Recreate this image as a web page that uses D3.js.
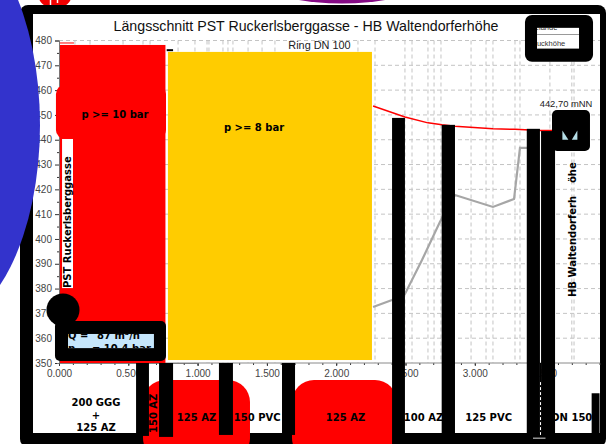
<!DOCTYPE html>
<html>
<head>
<meta charset="utf-8">
<script src="https://cdn.jsdelivr.net/npm/d3@7"></script>
<style>
html, body { margin: 0; padding: 0; background: #fff; }
svg { display: block; font-family: "Liberation Sans", sans-serif; }
</style>
</head>
<body>
<div id="chart"></div>
<script>
// axis ticks
const yTicks = [350, 360, 370, 380, 390, 400, 410, 420, 430, 440, 450, 460, 470, 480];
const yMinorTicks = [355, 365, 375, 385, 395, 405, 415, 425, 435, 445, 455, 465, 475];
const xTicks = [0, 0.5, 1, 1.5, 2, 2.5, 3, 3.5];

// vertical grid = node positions along the pipe (km)
const gridKm = [0.115, 0.224, 0.462, 0.606, 0.657, 0.859, 0.981, 1.068, 1.082, 1.183, 1.219, 1.255, 1.364, 1.465, 1.558,
  2.157, 2.28, 2.496, 2.547, 2.662, 2.706, 2.756, 2.973, 3.081, 3.131, 3.29, 3.326, 3.542, 3.70, 3.716];

// pressure head (red) and terrain (grey)
const headKm = [2.266, 2.496, 2.662, 2.763, 2.857, 3.131, 3.29, 3.47, 3.557];
const headM = [453.6, 449.2, 446.8, 446, 445.4, 444.4, 444.2, 443.7, 443.7];
const terrainKm = [2.266, 2.403, 2.496, 2.619, 2.749, 2.857, 3.131, 3.283, 3.326, 3.377];
const terrainM = [372.6, 375.4, 377.8, 391.5, 406.9, 417.7, 412.9, 416.1, 436.7, 436.7];

// pipe sections under the axis
const sectionLabels = ["125 AZ", "150 PVC", "125 AZ", "100 AZ", "125 PVC", "DN 150"];
const sectionKm = [0.992, 1.43, 2.067, 2.63, 3.1, 3.7];
const firstSection = ["200 GGG", "+", "125 AZ"];

// covered areas: [km from, km to, m from, m to]
const redAreas = [[0.007, 0.768, 350, 478.2], [-0.022, 0.772, 440.3, 462.1], [0.007, 0.108, 478.8, 479.2],
  [0.606, 1.378, 310.9, 343.1], [1.681, 2.439, 310.9, 343.1]];
const yellowArea = [0.786, 2.258, 351.2, 475.4];
const blackBars = [[0.556, 0.649, 320.6, 350], [0.722, 0.823, 320.2, 350], [1.154, 1.255, 321, 350], [1.609, 1.703, 321, 350],
  [2.403, 2.496, 317, 448.8], [2.761, 2.857, 317, 446], [3.375, 3.47, 317, 444.4], [3.478, 3.579, 317, 443.5],
  [3.47, 3.478, 317, 350], [0.777, 0.823, 475.7, 476.5], [3.843, 3.9, 320, 337.8]];
const qBox = [-0.029, 0.772, 350.8, 366.9];
const qInner = [0.065, 0.685, 356, 361.7];
const legendBox = [3.362, 3.853, 471.4, 490.3];
const legendInner = [3.449, 3.752, 476.6, 485.1];
const tankBox = [3.557, 3.831, 435.5, 452];

const width = 609, height = 444;
const svg = d3.select("#chart").append("svg").attr("width", width).attr("height", height);

const x = d3.scaleLinear().domain([0, 1]).range([59, 197.6]);
const y = d3.scaleLinear().domain([350, 480]).range([363, 40.5]);

function box(parent, a, fill, rx) {
  return parent.append("rect")
    .attr("x", x(a[0])).attr("y", y(a[3]))
    .attr("width", x(a[1]) - x(a[0])).attr("height", y(a[2]) - y(a[3]))
    .attr("rx", rx || 0).attr("fill", fill);
}
function bold(t, px, py, anchor) {
  return svg.append("text").attr("x", px).attr("y", py).attr("text-anchor", anchor || "middle")
    .attr("font-family", "DejaVu Sans").attr("font-weight", "bold").attr("font-size", 10).attr("fill", "#000").text(t);
}
function boldUp(t, px, py) {
  return svg.append("text").attr("transform", `translate(${px},${py}) rotate(-90)`)
    .attr("font-family", "DejaVu Sans").attr("font-weight", "bold").attr("font-size", 10).attr("fill", "#000").text(t);
}

// shapes sticking out behind the frame
svg.append("circle").attr("cx", 55).attr("cy", -9).attr("r", 18).attr("fill", "#f00000");
svg.append("line").attr("x1", 50.5).attr("x2", 50.5).attr("y1", 0).attr("y2", 9).attr("stroke", "#fff").attr("stroke-width", 1.5);
svg.append("line").attr("x1", 57.5).attr("x2", 57.5).attr("y1", 0).attr("y2", 3).attr("stroke", "#fff").attr("stroke-width", 1.5);
svg.append("ellipse").attr("cx", 342).attr("cy", -12).attr("rx", 68).attr("ry", 15.5).attr("fill", "#850a85");

// frame
svg.append("rect").attr("x", 20).attr("y", 5).attr("width", 586).attr("height", 442).attr("rx", 8).attr("fill", "#000");
svg.append("rect").attr("x", 33).attr("y", 14).attr("width", 567).attr("height", 419).attr("fill", "#fff");

// grid
const grid = svg.append("g").attr("stroke", "#c4c4c4").attr("stroke-dasharray", "4,3").attr("stroke-width", 1);
grid.selectAll("line.h").data(yTicks.slice(1)).join("line").attr("class", "h")
  .attr("x1", x(0)).attr("x2", 600).attr("y1", d => y(d)).attr("y2", d => y(d));
grid.selectAll("line.v").data(gridKm).join("line").attr("class", "v")
  .attr("x1", d => x(d)).attr("x2", d => x(d)).attr("y1", y(480)).attr("y2", y(350));

// axes
svg.append("g").attr("transform", `translate(${x(0)},0)`)
  .call(d3.axisLeft(y).tickValues(yTicks).tickSize(4).tickFormat(d3.format("d")));
svg.append("g").attr("transform", `translate(${x(0)},0)`)
  .call(d3.axisLeft(y).tickValues(yMinorTicks).tickSize(2).tickFormat(""));
const xAxis = svg.append("g").attr("transform", `translate(0,${y(350)})`)
  .call(d3.axisBottom(x).tickValues(xTicks).tickSize(3).tickFormat(d3.format(".3f")));
svg.append("g").attr("transform", `translate(0,${y(350)})`)
  .call(d3.axisBottom(x).tickValues(d3.range(0, 3.95, 0.1)).tickSize(2).tickFormat(""));
svg.append("line").attr("x1", x(0)).attr("x2", 600).attr("y1", y(350)).attr("y2", y(350)).attr("stroke", "#8a8a8a");
svg.selectAll(".domain").attr("stroke", "#777");
svg.selectAll(".tick line").attr("stroke", "#333");
svg.selectAll(".tick text").attr("font-size", 10).attr("font-family", "Liberation Sans").attr("fill", "#444");
xAxis.selectAll("text").attr("y", 7);

// blue ellipse over the left of the frame
svg.append("ellipse").attr("cx", -60).attr("cy", 125).attr("rx", 100).attr("ry", 200).attr("fill", "#3333cc");

// lines
const lineOf = d3.line().x(d => x(d[0])).y(d => y(d[1]));
svg.append("path").attr("d", lineOf(d3.zip(terrainKm, terrainM))).attr("fill", "none").attr("stroke", "#a6a6a6").attr("stroke-width", 2.2);
svg.append("path").attr("d", lineOf(d3.zip(headKm, headM))).attr("fill", "none").attr("stroke", "#f00").attr("stroke-width", 1.5);

// title etc
svg.append("text").attr("x", 306).attr("y", 31).attr("text-anchor", "middle").attr("font-size", 14.2).attr("fill", "#111")
  .text("Längsschnitt PST Ruckerlsberggasse - HB Waltendorferhöhe");
svg.append("text").attr("x", 319.5).attr("y", 49).attr("text-anchor", "middle").attr("font-size", 10.9).attr("fill", "#222").text("Ring DN 100");
svg.append("text").attr("x", 566).attr("y", 107).attr("text-anchor", "middle").attr("font-size", 9.4).attr("fill", "#222").text("442,70 mNN");

// pressure zones
redAreas.slice(0, 3).forEach((a, i) => box(svg, a, "#f00", i === 1 ? 9 : 0));
box(svg, yellowArea, "#ffcc00");
bold("p >= 10 bar", 115, 118);
bold("p >= 8 bar", 254, 131);

// station names
box(svg, [0.022, 0.101, 380.2, 440.3], "#fff");
boldUp("PST Ruckerlsberggasse", 71, 288);
boldUp("HB Waltendorferh", 576, 297);
boldUp("öhe", 576, 183);

// red blocks below the axis
redAreas.slice(3).forEach(a => box(svg, a, "#f00", 22));

// section labels
sectionLabels.forEach((t, i) => bold(t, x(sectionKm[i]), 421));
firstSection.forEach((t, i) => bold(t, 96, 406 + i * 12.5));
boldUp("150 AZ", 157, 433);

// black bars
blackBars.forEach(b => box(svg, b, "#000"));

// dashed valve mark between the last bars
svg.append("line").attr("x1", x(3.474)).attr("x2", x(3.474)).attr("y1", y(342.3)).attr("y2", y(321))
  .attr("stroke", "#fff").attr("stroke-dasharray", "3,2");
svg.append("line").attr("x1", x(3.42)).attr("x2", x(3.51)).attr("y1", y(319.7)).attr("y2", y(319.7)).attr("stroke", "#ddd");

// circle and Q/p box
svg.append("circle").attr("cx", x(0.029)).attr("cy", y(371.4)).attr("r", 16.5).attr("fill", "#000");
box(svg, qBox, "#000", 5);
box(svg, qInner, "#c6e6fb");
const defs = svg.append("defs");
defs.append("clipPath").attr("id", "qClip").append("rect")
  .attr("x", x(qInner[0])).attr("y", y(qInner[3])).attr("width", x(qInner[1]) - x(qInner[0])).attr("height", y(qInner[2]) - y(qInner[3]));
const qText = svg.append("g").attr("clip-path", "url(#qClip)")
  .attr("font-family", "DejaVu Sans").attr("font-weight", "bold").attr("font-size", 10);
qText.append("text").attr("x", 68).attr("y", 339).text("Q =");
qText.append("text").attr("x", 97).attr("y", 339).text("87 m³/h");
qText.append("text").attr("x", 68).attr("y", 352).text("p");
qText.append("text").attr("x", 92).attr("y", 352).text("= 10,4 bar");

// legend box
box(svg, legendBox, "#000", 7);
box(svg, legendInner, "#fff");
defs.append("clipPath").attr("id", "legClip").append("rect")
  .attr("x", x(legendInner[0])).attr("y", y(legendInner[3])).attr("width", x(legendInner[1]) - x(legendInner[0])).attr("height", y(legendInner[2]) - y(legendInner[3]));
const leg = svg.append("g").attr("clip-path", "url(#legClip)");
leg.append("line").attr("x1", x(legendInner[0])).attr("x2", x(legendInner[1])).attr("y1", 34.5).attr("y2", 34.5).attr("stroke", "#999");
leg.append("line").attr("x1", x(legendInner[0])).attr("x2", x(legendInner[1])).attr("y1", 48.5).attr("y2", 48.5).attr("stroke", "#999");
leg.append("text").attr("x", 529).attr("y", 46).attr("font-size", 7.5).attr("fill", "#333").text("Druckhöhe");
leg.append("text").attr("x", 529).attr("y", 30).attr("font-size", 7.5).attr("fill", "#333").text("Gelände");

// tank box
box(svg, tankBox, "#000", 5);
const tankMarks = [[[3.632, 443.7], [3.632, 440], [3.675, 440]], [[3.74, 443.7], [3.74, 440], [3.70, 440]]];
svg.selectAll("path.tank").data(tankMarks).join("path").attr("class", "tank")
  .attr("d", d => lineOf(d) + "Z").attr("fill", "#b5dde6");
</script>
</body>
</html>
